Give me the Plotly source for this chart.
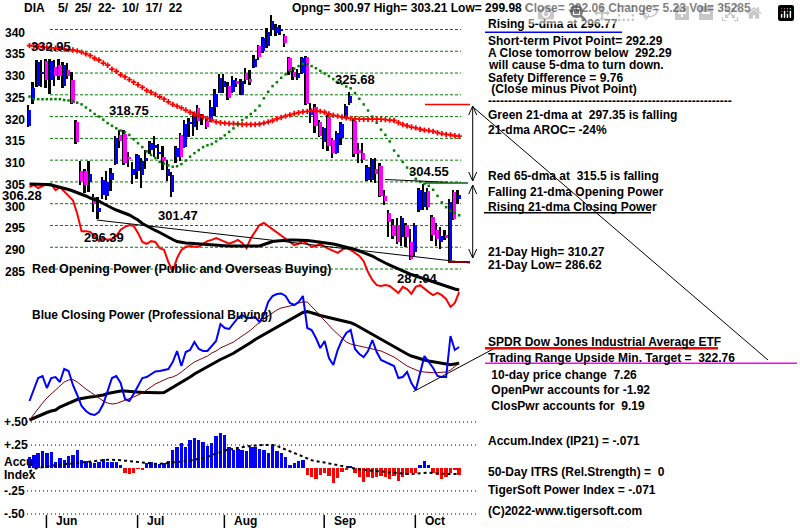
import plotly.graph_objects as go

# ---------------------------------------------------------------- data
month_labels = ["Jun", "Jul", "Aug", "Sep", "Oct"]
month_start = [4, 25, 45, 68, 89]          # session index of first day of month

opens = [317.9, 324.0, 327.0, 330.0, 332.8, 328.3, 331.5, 331.8, 327.0, 330.7,
         328.5, 318.7, 307.5, 307.6, 305.0, 301.6, 298.2, 302.0, 301.8, 305.5,
         309.2, 315.8, 316.0, 310.5, 306.6, 307.4, 306.6, 310.0, 312.3, 313.0,
         311.5, 310.8, 306.3, 302.6, 310.8, 315.8, 313.1, 318.3, 317.7, 322.0,
         320.0, 319.0, 319.2, 322.3, 325.5, 326.7, 327.0, 325.7, 328.1, 325.0,
         330.1, 328.6, 331.5, 336.1, 335.0, 336.2, 339.9, 339.2, 339.8, 338.5,
         333.4, 330.2, 328.8, 329.9, 333.6, 320.4, 322.3, 318.8, 314.2, 319.8,
         314.6, 311.6, 315.0, 320.0, 323.2, 319.1, 312.3, 311.7, 305.5, 305.4,
         307.9, 308.7, 301.7, 297.9, 295.2, 295.0, 292.3, 295.1, 291.3, 289.0,
         298.6, 299.2, 303.0, 297.0, 294.0, 291.3, 292.7, 287.0, 302.7, 300.97]
highs = [322.6, 328.0, 333.0, 333.0, 333.2, 333.2, 333.0, 333.2, 332.5, 332.4,
         330.2, 319.2, 309.9, 307.9, 309.8, 302.2, 301.5, 306.2, 307.5, 308.2,
         315.5, 317.0, 317.0, 311.8, 309.5, 311.5, 310.5, 312.3, 314.5, 315.5,
         313.8, 313.2, 310.0, 307.2, 313.3, 316.3, 319.2, 319.7, 321.1, 322.6,
         320.5, 319.7, 323.7, 326.3, 329.8, 329.8, 328.0, 329.4, 328.8, 328.7,
         331.1, 330.6, 334.2, 336.4, 338.2, 340.3, 343.3, 341.2, 341.0, 339.0,
         333.8, 331.3, 331.0, 333.6, 334.0, 323.2, 322.8, 319.2, 317.5, 320.3,
         315.0, 316.6, 318.8, 322.8, 325.68, 319.7, 313.9, 313.9, 309.0, 310.5,
         310.4, 309.3, 303.1, 298.6, 296.5, 296.7, 297.2, 295.5, 294.3, 295.6,
         303.5, 304.55, 303.6, 297.3, 295.5, 294.6, 294.0, 301.0, 303.2, 303.21]
lows = [317.5, 323.0, 326.8, 326.9, 326.5, 325.3, 327.0, 328.5, 326.5, 328.6,
        323.0, 313.8, 304.3, 302.4, 302.8, 298.0, 296.39, 301.0, 300.8, 303.0,
        308.8, 312.8, 309.0, 308.4, 304.5, 305.6, 303.5, 308.0, 311.5, 310.8,
        310.3, 307.7, 305.3, 301.47, 309.4, 309.7, 312.8, 315.4, 315.6, 316.9,
        318.1, 317.1, 318.8, 320.1, 325.4, 325.5, 323.9, 325.5, 326.8, 324.9,
        327.6, 327.3, 331.1, 333.0, 334.6, 335.8, 338.4, 338.4, 338.8, 336.0,
        329.6, 328.4, 328.3, 329.7, 322.6, 318.5, 316.2, 315.3, 312.5, 312.2,
        310.6, 311.3, 313.5, 319.8, 322.7, 310.8, 309.3, 309.3, 305.2, 305.0,
        304.8, 301.5, 299.7, 292.4, 292.0, 290.7, 290.2, 290.0, 287.04, 288.0,
        298.0, 298.5, 298.6, 291.4, 290.2, 289.7, 291.6, 286.62, 296.2, 299.98]
closes = [321.5, 326.5, 332.5, 330.3, 328.4, 332.7, 329.4, 329.3, 331.8, 329.3,
          323.2, 314.2, 305.3, 304.3, 306.8, 300.0, 299.0, 305.4, 304.9, 307.0,
          315.0, 314.4, 309.4, 310.3, 308.0, 311.1, 309.7, 310.4, 314.0, 313.4,
          311.8, 309.9, 308.0, 306.5, 312.9, 310.7, 318.3, 318.8, 320.6, 319.0,
          319.8, 317.5, 322.3, 325.3, 328.9, 328.2, 324.2, 328.4, 327.5, 328.2,
          328.4, 327.9, 333.3, 333.6, 338.0, 339.5, 342.0, 340.6, 340.0, 336.9,
          330.4, 329.0, 330.1, 333.4, 322.9, 321.4, 317.9, 315.5, 317.3, 313.3,
          311.7, 316.2, 318.2, 322.4, 324.7, 311.5, 311.6, 310.1, 308.5, 310.2,
          306.9, 301.8, 300.6, 295.9, 292.6, 291.3, 296.8, 292.3, 287.3, 294.9,
          303.2, 302.7, 299.3, 292.9, 292.0, 292.6, 292.2, 300.4, 296.6, 302.06]

ma21 = [324.6, 324.0, 324.0, 324.0, 324.0, 324.0, 324.0, 324.0, 323.8, 323.7,
        323.5, 323.2, 322.8, 322.1, 321.4, 320.6, 320.0, 319.3, 318.5, 317.9,
        317.3, 316.8, 316.4, 315.8, 314.8, 313.9, 313.0, 312.0, 311.2, 310.5,
        309.6, 309.2, 308.8, 308.5, 308.6, 309.1, 309.9, 310.8, 311.6, 312.3,
        313.0, 313.4, 313.7, 314.3, 315.0, 315.7, 316.5, 317.3, 318.2, 319.2,
        319.8, 320.6, 321.4, 322.5, 324.2, 325.7, 327.0, 327.9, 328.9, 329.7,
        330.5, 331.0, 331.6, 332.1, 332.0, 331.6, 331.1, 330.5, 329.9, 329.3,
        328.6, 328.0, 327.5, 326.9, 326.5, 325.4, 324.1, 322.8, 321.4, 320.0,
        318.6, 317.0, 315.8, 314.3, 312.2, 311.0, 309.6, 308.3, 307.3, 305.7,
        305.0, 304.6, 304.1, 303.2, 301.8, 300.3, 299.2, 298.4, 297.9, 297.35]
ma65 = [336.3, 336.2, 336.1, 336.0, 335.9, 335.8, 335.7, 335.6, 335.5, 335.4,
        335.3, 335.1, 334.8, 334.4, 334.0, 333.4, 333.0, 332.3, 331.8, 330.9,
        330.4, 329.6, 329.1, 328.5, 327.9, 327.3, 326.7, 326.0, 325.6, 325.1,
        324.5, 324.0, 323.4, 322.8, 322.4, 322.0, 321.5, 321.0, 320.6, 320.3,
        319.9, 319.6, 319.2, 318.8, 318.6, 318.5, 318.4, 318.4, 318.3, 318.2,
        318.2, 318.2, 318.2, 318.3, 318.5, 318.8, 319.1, 319.5, 319.8, 320.1,
        320.4, 320.7, 320.9, 321.1, 321.2, 321.3, 321.3, 321.2, 321.0, 320.6,
        320.3, 320.1, 319.9, 319.7, 319.6, 319.5, 319.4, 319.4, 319.4, 319.4,
        319.4, 319.4, 319.3, 319.2, 319.1, 318.6, 318.2, 317.9, 317.6, 317.4,
        317.1, 316.9, 316.8, 316.6, 316.3, 316.1, 315.9, 315.8, 315.6, 315.5]

open_power = [303.8, 304.3, 303.6, 304.1, 304.5, 304.5, 303.1, 303.8, 302.7, 301.8,
              300.8, 297.7, 293.7, 293.7, 293.5, 292.6, 291.4, 292.1, 291.7, 291.9,
              292.6, 294.0, 294.7, 295.1, 294.9, 293.3, 291.2, 290.8, 291.4, 291.2,
              289.8, 289.4, 286.6, 284.5, 287.5, 289.4, 290.1, 290.3, 290.1, 290.1,
              290.8, 291.4, 291.7, 292.1, 291.7, 291.2, 290.8, 291.2, 291.7, 291.0,
              289.8, 292.1, 293.7, 295.1, 295.6, 294.9, 294.2, 293.5, 292.6, 291.9,
              291.2, 290.5, 290.8, 291.4, 290.8, 290.1, 290.3, 290.8, 290.1, 289.6,
              289.2, 288.7, 289.4, 289.8, 289.4, 288.7, 288.0, 286.8, 284.3, 282.5,
              281.3, 281.1, 281.3, 281.1, 280.2, 279.5, 280.9, 280.4, 279.3, 280.9,
              281.3, 280.4, 279.7, 279.0, 279.5, 279.0, 278.1, 276.3, 277.2, 279.7]
open_power_ma = [304.52, 304.52, 304.52, 304.52, 304.40, 304.29, 304.06, 303.83, 303.60, 303.26,
                 302.92, 302.57, 302.23, 301.77, 301.31, 300.96, 300.62, 300.05, 299.47, 299.01,
                 298.55, 298.21, 297.86, 297.41, 296.83, 296.26, 295.45, 294.88, 294.31, 293.85,
                 293.39, 292.81, 292.35, 291.78, 291.32, 291.09, 290.98, 290.91, 290.86, 290.75,
                 290.68, 290.61, 290.52, 290.45, 290.40, 290.36, 290.29, 290.29, 290.24, 290.20,
                 290.17, 290.13, 290.13, 290.29, 290.63, 290.98, 291.32, 291.44, 291.55, 291.60,
                 291.67, 291.67, 291.67, 291.60, 291.55, 291.44, 291.32, 291.21, 291.09, 290.98,
                 290.75, 290.52, 290.29, 290.06, 289.76, 289.48, 289.14, 288.79, 288.45, 287.99,
                 287.42, 286.84, 286.38, 285.92, 285.46, 285.00, 284.55, 284.09, 283.74, 283.40,
                 283.05, 282.71, 282.48, 282.14, 281.79, 281.45, 281.10, 280.76, 280.41, 280.18]

close_power = [29, 40, 52, 54, 42, 52, 53, 48, 61, 59,
               45, 35, 24, 19, 16, 15, 18, 26, 40, 52,
               54, 47, 31, 29, 36, 44, 52, 53, 56, 58.5,
               59, 60, 61, 68, 79, 64, 78, 80, 88, 81,
               79, 79, 84, 89, 106, 102, 101, 107, 112, 115,
               112, 112, 113, 108, 115, 128, 134, 136, 136.5, 134,
               127, 125, 128, 134, 102, 100, 92, 82, 89, 72,
               65, 80, 90, 97, 100, 81, 76, 73, 79, 90,
               78, 70, 68, 66, 64, 52, 53, 58, 47, 40,
               58, 74, 68, 62, 54, 53, 53, 94, 80, 83]
close_power_ma21 = [10, 16, 22, 27, 32, 36, 40, 44, 48, 50,
                    50.5, 48, 44, 41, 38, 35, 32, 29, 27, 26,
                    26.5, 28, 29.5, 31, 33, 35, 37, 40, 43, 46,
                    48, 50, 52, 53, 55, 58, 62, 65, 68, 70,
                    72, 74, 77, 79, 82, 84, 86, 88, 91, 94,
                    97, 100, 104, 108, 111, 114, 117, 120, 122, 123,
                    124, 125, 127, 128, 128, 124, 119, 114, 109, 104,
                    100, 96, 92, 88, 86, 85, 84, 83, 82, 81,
                    80, 79, 77, 75, 73, 70, 67, 64, 62, 60,
                    58.5, 58, 57.5, 57.3, 57.5, 57.7, 58, 60, 64, 67]
close_power_ma65 = [10, 12, 14, 16, 17.5, 19, 20, 23, 25, 27,
                    29, 30.5, 31.5, 32.5, 33, 33.5, 34, 35, 36.5, 37.5,
                    38.5, 39, 39, 38.5, 38, 38, 37.5, 37.5, 37.3, 37.3,
                    37.3, 37.5, 40, 43, 45, 47.5, 50, 53, 56, 58.5,
                    60.5, 63, 65.5, 68, 70.5, 72.5, 74.5, 76.7, 79.5, 82,
                    85, 87.5, 90.5, 93, 95.5, 98, 100.5, 103, 105.5, 108,
                    110.5, 113, 115.5, 117.5, 118.5, 117.5, 116, 114.5, 113.5, 112.5,
                    111.7, 111, 110, 108.5, 107.3, 105.5, 103, 100.5, 98, 96,
                    93.5, 91, 88, 85.5, 83, 80.5, 78, 76, 74, 72.5,
                    71, 70, 69, 68.3, 67.5, 66.5, 65.5, 65.3, 66, 66.7]

accum_index = [.123, .141, .159, .188, .159, .178, .069, .105, .087, .13,
               .141, .196, .087, .08, .069, .051, .069, .094, .069, .069,
               .069, .033, -.058, -.07, -.05, -.005, -.012, .05, .07, .05,
               .043, .05, .08, .196, .232, .268, .232, .304, .322, .304,
               .286, .239, .268, .348, .377, .359, .225, .196, .203, .196,
               .185, .232, .225, .203, .196, .159, .25, .188, .159, .123,
               .033, .05, .08, .087, -.076, -.101, -.12, -.076, -.058, -.087,
               -.16, -.112, -.04, -.022, .02, -.05, -.094, -.149, -.101, -.112,
               -.094, -.087, -.101, -.123, -.087, -.141, -.101, -.076, -.058, -.05,
               .033, .08, .033, -.05, -.076, -.123, -.101, -.05, -.022, -.071]
accum_index_ma = [-.04, -.01, 0, .01, .02, .025, .03, .035, .04, .05,
                  .055, .06, .065, .07, .075, .08, .085, .09, .09, .09,
                  .09, .085, .08, .075, .07, .065, .055, .05, .045, .045,
                  .045, .05, .05, .055, .06, .07, .075, .08, .09, .10,
                  .11, .12, .14, .16, .17, .19, .20, .21, .22, .225,
                  .235, .24, .245, .25, .25, .25, .25, .24, .22, .20,
                  .18, .16, .14, .12, .10, .085, .075, .07, .06, .05,
                  .04, .03, .02, .01, 0, -.01, -.015, -.02, -.025, -.03,
                  -.035, -.04, -.045, -.05, -.05, -.055, -.06, -.065, -.065, -.06,
                  -.06, -.055, -.05, -.055, -.06, -.06, -.065, -.065, -.065, -.065]

price_ticks = [340, 335, 330, 325, 320, 315, 310, 305, 300, 295, 290, 285]
ai_tick_vals = [0.5, 0.25, -0.25, -0.5]
ai_tick_text = ["+.50", "+.25", "-.25", "-.50"]
target_price = 322.76
low_21 = 286.62

title_ticker = "DIA"
title_dates = "5/  25/  22-  10/  17/  22"
title_right = "Opng= 300.97 High= 303.21 Low= 299.98 Close= 302.06 Change= 5.23 Vol= 35285"
side_text = [
    "Rising 5-dma at 296.77",
    "Short-term Pivot Point= 292.29",
    "A Close tomorrow below  292.29",
    "will cause 5-dma to turn down.",
    "Safety Difference = 9.76",
    " (Close minus Pivot Point)",
    "-" * 61,
    "Green 21-dma at  297.35 is falling",
    "21-dma AROC= -24%",
    "Red 65-dma at  315.5 is falling",
    "Falling 21-dma Opening Power",
    "Rising 21-dma Closing Power",
    "21-Day High= 310.27",
    "21-Day Low= 286.62",
    "SPDR Dow Jones Industrial Average ETF",
    "Trading Range Upside Min. Target =  322.76",
    " 10-day price change  7.26",
    " OpenPwr accounts for -1.92",
    " ClosPwr accounts for  9.19",
    "Accum.Index (IP21) = -.071",
    "50-Day ITRS (Rel.Strength) =  0",
    "TigerSoft Power Index = -.071",
    "(C)2022-www.tigersoft.com",
]
price_point_labels = ["332.95", "318.75", "325.68", "304.55", "301.47", "296.39", "287.04", "306.28"]

# ---------------------------------------------------------------- geometry
W, H = 800, 528
X0_PX, DX_PX = 29.5, 4.34
P_REF, PY_REF, PY_PER_PT = 340.0, 29.5, 4.355
CP_ZERO_PY = 430.0
AI_ZERO_PY, AI_PX_PER_UNIT = 468.0, 92.0


def pxx(px):
    return px / W


def pxy(py):
    return 1 - py / H


def fix(s):
    s2 = s.replace("  ", "\u00a0 ")
    if s2.startswith(" "):
        s2 = "\u00a0" + s2[1:]
    return s2


n = len(closes)
idx = list(range(n))
x_range = [-X0_PX / DX_PX, (W - X0_PX) / DX_PX]
price_range = [P_REF - (H - PY_REF) / PY_PER_PT, P_REF + PY_REF / PY_PER_PT]
cp_range = [CP_ZERO_PY - H, CP_ZERO_PY]
ai_range = [(AI_ZERO_PY - H) / AI_PX_PER_UNIT, AI_ZERO_PY / AI_PX_PER_UNIT]

BLUE, MAG, RED, GREEN = "#0000FF", "#FF00FF", "#FF0000", "#008000"
FONT = "Liberation Sans, Arial, sans-serif"

fig = go.Figure()

# moving averages of price
fig.add_trace(go.Scatter(x=idx, y=ma65, mode="markers",
                         marker=dict(symbol="cross", size=4.5, color=RED), yaxis="y"))
fig.add_trace(go.Scatter(x=idx, y=ma21, mode="markers",
                         marker=dict(symbol="square", size=2.5, color=GREEN), yaxis="y"))

# opening power
fig.add_trace(go.Scatter(x=idx, y=open_power, mode="lines",
                         line=dict(color=RED, width=2), yaxis="y"))
fig.add_trace(go.Scatter(x=idx, y=open_power_ma, mode="lines",
                         line=dict(color="black", width=3), yaxis="y"))

# candles: high-low range then body
fig.add_trace(go.Bar(x=[i - 0.3 for i in idx], base=lows,
                     y=[h - l for h, l in zip(highs, lows)], width=0.45,
                     marker=dict(color="black", line=dict(width=0)), yaxis="y"))
body_base = [min(o, c) for o, c in zip(opens, closes)]
body_h = [max(abs(c - o), 0.35) for o, c in zip(opens, closes)]
body_col = [BLUE if c >= o else MAG for o, c in zip(opens, closes)]
fig.add_trace(go.Bar(x=idx, base=body_base, y=body_h, width=0.75,
                     marker=dict(color=body_col, line=dict(width=0)), yaxis="y"))

# closing power
fig.add_trace(go.Scatter(x=idx, y=close_power_ma65, mode="lines",
                         line=dict(color="black", width=3), yaxis="y2"))
fig.add_trace(go.Scatter(x=idx, y=close_power_ma21, mode="lines",
                         line=dict(color="#800000", width=1), yaxis="y2"))
fig.add_trace(go.Scatter(x=idx, y=close_power, mode="lines",
                         line=dict(color=BLUE, width=2), yaxis="y2"))

# accumulation index
ai_col = [BLUE if v >= 0 else RED for v in accum_index]
fig.add_trace(go.Bar(x=idx, y=accum_index, width=0.78,
                     marker=dict(color=ai_col, line=dict(width=0)), yaxis="y3"))
fig.add_trace(go.Scatter(x=idx, y=accum_index_ma, mode="lines",
                         line=dict(color="black", width=2, dash="dot"), yaxis="y3"))

shapes = []
# price gridlines
for p in price_ticks:
    shapes.append(dict(type="line", xref="paper", yref="y", x0=pxx(50), x1=pxx(461),
                       y0=p, y1=p, line=dict(color=GREEN, width=1, dash="3px,2px"), layer="below"))
# AI dotted levels
for v in ai_tick_vals:
    shapes.append(dict(type="line", xref="paper", yref="y3", x0=pxx(27), x1=pxx(476),
                       y0=v, y1=v, line=dict(color="black", width=1, dash="1px,3px"), layer="below"))
# month ticks
for m in month_start:
    shapes.append(dict(type="line", xref="x", yref="paper", x0=m - 0.1, x1=m - 0.1,
                       y0=pxy(515), y1=pxy(528), line=dict(color="black", width=1.5)))


def seg(x0, y0, x1, y1, color="black", width=1):
    shapes.append(dict(type="line", xref="paper", yref="paper", x0=pxx(x0), y0=pxy(y0),
                       x1=pxx(x1), y1=pxy(y1), line=dict(color=color, width=width)))


def vhead(x, y, up):
    d = 9 if up else -9
    shapes.append(dict(type="path", xref="paper", yref="paper",
                       path=f"M {pxx(x-4)},{pxy(y+d)} L {pxx(x)},{pxy(y)} L {pxx(x+4)},{pxy(y+d)}",
                       line=dict(color="black", width=1)))


# trend lines and right side markers
seg(96.7, 220, 470, 263)                      # price trend line
seg(413.3, 391.7, 497, 347)                   # closing power trend line
seg(473, 107, 768, 360)                       # long diagonal
seg(385, 179.5, 448, 182.3)
seg(425, 183, 468, 183, "#006400", 1.5)
shapes.append(dict(type="line", xref="paper", yref="y", x0=pxx(425), x1=pxx(470),
                   y0=target_price, y1=target_price, line=dict(color=RED, width=1.5)))
shapes.append(dict(type="line", xref="paper", yref="y", x0=pxx(448), x1=pxx(470),
                   y0=low_21, y1=low_21, line=dict(color="#800000", width=2)))
for (yt, yb) in [(106, 181), (185, 258)]:
    seg(472.7, yt, 472.7, yb)
    vhead(472.7, yt, True)
    vhead(472.7, yb, False)
# underlines
seg(485, 32.3, 622, 32.3, BLUE, 1.5)
seg(484, 212.7, 651, 212.7, "black", 1.5)
seg(485, 348.3, 718, 348.3, RED, 2.5)
seg(485, 363.3, 797, 363.3, MAG, 1.5)

ann = []


def text(s, px, py, size=12, anchor="left"):
    ann.append(dict(text=fix(s), x=pxx(px), y=pxy(py), xref="paper", yref="paper",
                    xanchor=anchor, yanchor="middle", showarrow=False,
                    font=dict(family=FONT, size=size, color="black", weight="bold")))


text(title_ticker, 22, 8)
text(title_dates, 56, 8)
text(title_right, 290, 8)

side_y = [24.5, 41, 53, 65, 78, 89.5, 101, 115, 130, 176, 192, 207, 252, 265,
          342, 358, 375, 390, 406, 441, 472, 490, 511]
for s, y in zip(side_text, side_y):
    text(s, 486, y)

lab_pos = [(29, 47), (107, 110), (333, 79), (407, 171.5), (156, 215), (82, 238), (395, 278), (0, 195)]
for s, (x, y) in zip(price_point_labels, lab_pos):
    text(s, x, y, 13)

text("Red Opening Power (Public and Overseas Buying)", 30, 268.5, 12.5)
text("Blue Closing Power (Professional Buying)", 30, 315)

for p in price_ticks:
    ann.append(dict(text=str(p), x=pxx(27), y=p, xref="paper", yref="y", yshift=-3,
                    xanchor="right", yanchor="middle", showarrow=False,
                    font=dict(family=FONT, size=12, color="black", weight="bold")))
for v, t in zip(ai_tick_vals, ai_tick_text):
    ann.append(dict(text=t, x=pxx(2), y=v, xref="paper", yref="y3",
                    xanchor="left", yanchor="middle", showarrow=False,
                    font=dict(family=FONT, size=12, color="black", weight="bold")))
text("Accu", 2, 462)
text("Index", 2, 474.5)

for m, lab in zip(month_start, month_labels):
    ann.append(dict(text=lab, x=m + 1.6, y=pxy(521), xref="x", yref="paper",
                    xanchor="left", yanchor="middle", showarrow=False,
                    font=dict(family=FONT, size=12, color="black", weight="bold")))

fig.update_layout(
    width=W, height=H, margin=dict(l=0, r=0, t=0, b=0),
    paper_bgcolor="white", plot_bgcolor="white", showlegend=False,
    barmode="overlay", bargap=0,
    xaxis=dict(range=x_range, visible=False, fixedrange=True),
    yaxis=dict(range=price_range, visible=False, domain=[0, 1]),
    yaxis2=dict(range=cp_range, visible=False, overlaying="y"),
    yaxis3=dict(range=ai_range, visible=False, overlaying="y"),
    shapes=shapes, annotations=ann,
)

fig.write_html("out.html",
               post_script="document.body.style.margin='0px';document.body.style.overflow='hidden';")
